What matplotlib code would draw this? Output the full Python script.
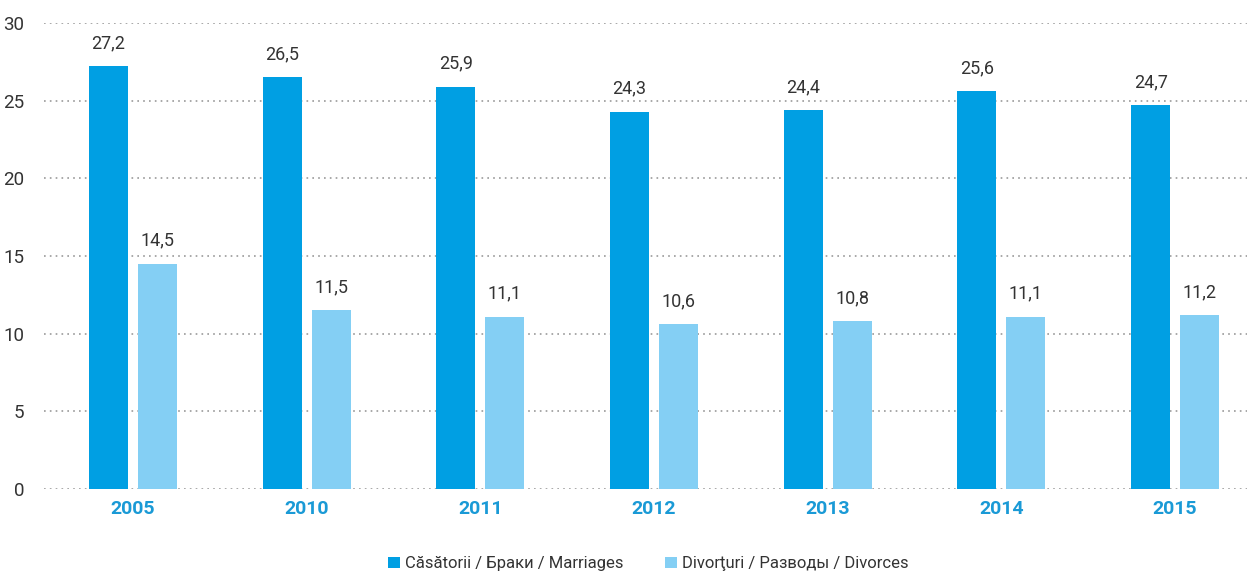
import matplotlib
matplotlib.use("Agg")
import matplotlib.pyplot as plt
import numpy as np

plt.rcParams['font.family'] = ['Roboto', 'DejaVu Sans']

years = ['2005', '2010', '2011', '2012', '2013', '2014', '2015']
marriages = [27.2, 26.5, 25.9, 24.3, 24.4, 25.6, 24.7]
divorces = [14.5, 11.5, 11.1, 10.6, 10.8, 11.1, 11.2]
labels = ['Căsătorii / Браки / Marriages', 'Divorţuri / Разводы / Divorces']

c_dark = '#009FE3'
c_light = '#84CFF4'

fig = plt.figure(figsize=(12.47, 5.72), dpi=100)
ax = fig.add_axes([44 / 1247, 83 / 572, 1 - 44 / 1247, 466 / 572])

x = np.arange(len(years))
w = 0.225
off = 0.141
b1 = ax.bar(x - off, marriages, w, color=c_dark, label=labels[0], zorder=3)
b2 = ax.bar(x + off, divorces, w, color=c_light, label=labels[1], zorder=3)

for bars, vals in ((b1, marriages), (b2, divorces)):
    for b, v in zip(bars, vals):
        ax.text(b.get_x() + b.get_width() / 2, v + 0.9, f'{v:.1f}'.replace('.', ','),
                ha='center', va='bottom', fontsize=13, color='#333333')

ax.set_ylim(0, 30)
ax.set_xlim(-0.512, 6.414)
ax.set_yticks(range(0, 31, 5))
ax.yaxis.grid(True, linestyle=(0, (1, 2.5)), color='#999999', linewidth=1.2, zorder=0)
ax.set_xticks(x)
ax.set_xticklabels(years, fontsize=14, fontweight='bold', color='#1A9AD6')
ax.tick_params(axis='both', length=0)
ax.tick_params(axis='y', labelsize=13.5, labelcolor='#333333', pad=14)
ax.tick_params(axis='x', pad=8)
for s in ax.spines.values():
    s.set_visible(False)

fig.legend(handles=[b1, b2], labels=labels, loc='lower center', ncol=2, frameon=False,
           bbox_to_anchor=(0.52, -0.025), fontsize=12, handlelength=0.7, handleheight=0.7,
           handletextpad=0.3, columnspacing=2.5, labelcolor='#333333')

fig.savefig('out.png', dpi=100)
